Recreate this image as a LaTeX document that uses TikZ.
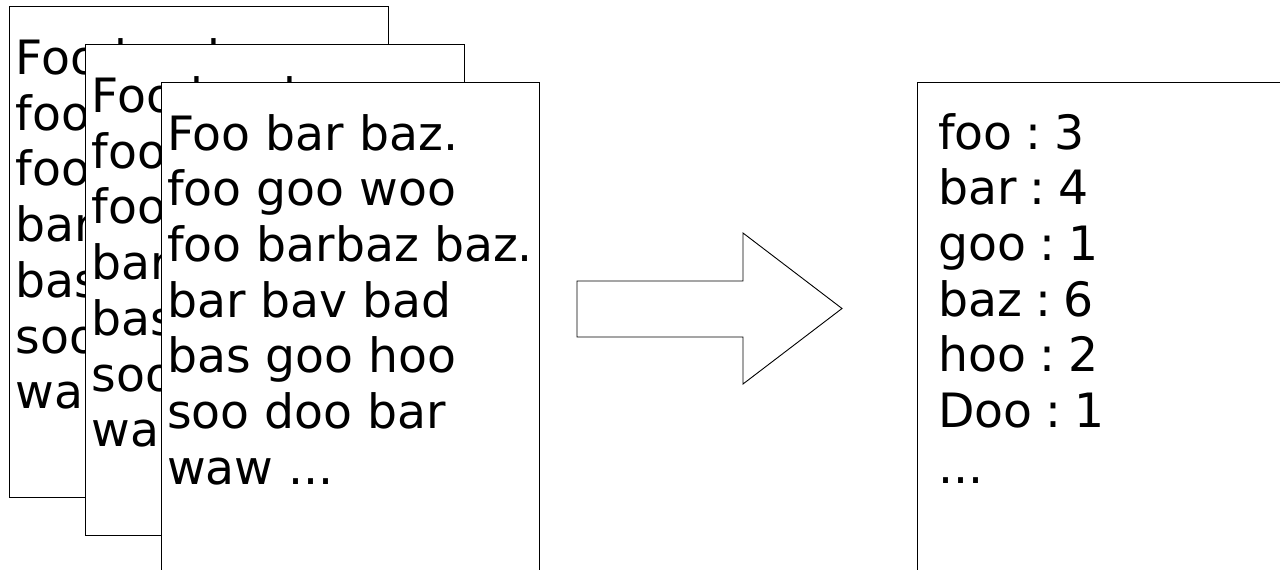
\documentclass[tikz,border=0pt]{standalone}
\usepackage{fontspec}
\setmainfont{DejaVu Sans}
\newcommand\mydotsthree{...}
\newcommand\myrsp{\frenchspacing\spaceskip=13pt\relax}
\begin{document}
\begin{tikzpicture}[x=1pt,y=-1pt,
  page/.style={draw=black, line width=0.9pt, fill=white},
  txt/.style={anchor=base west, inner sep=0pt, font=\fontsize{47.3}{55.7}\selectfont},
  bigarrow/.style={draw=black, line width=0.9pt, fill=white, line join=miter}]
\useasboundingbox (0,0) rectangle (1280,570);
\clip (0,0) rectangle (1280,570);
% stacked pages
\foreach \n/\x/\y in {1/9.5/6.5, 2/85.5/44.5, 3/161/82} {
  \path[page] (\x,\y) rectangle ++(378.5,490.5);
  \foreach \t [count=\i] in {Foo bar baz., foo goo woo, foo barbaz baz., bar bav bad, bas goo hoo, soo doo bar, waw \mydotsthree}
    \node[txt] (p\n l\i) at (\x+6, \y+68+\i*55.7-55.7) {\t};
}
% arrow
\path[bigarrow] (577,281) -- (743,281) -- (743,233) -- (842,308.5) -- (743,384) -- (743,337) -- (577,337) -- cycle;
% result box
\path[page] (917.5,82) rectangle (1300,580);
\foreach \t [count=\i] in {foo : 3, bar : 4, goo : 1, baz : 6, hoo : 2, Doo : 1, \mydotsthree}
  \node[txt] (r\i) at (938, 149+\i*55.7-55.7) {\myrsp\t};
\end{tikzpicture}
\end{document}
